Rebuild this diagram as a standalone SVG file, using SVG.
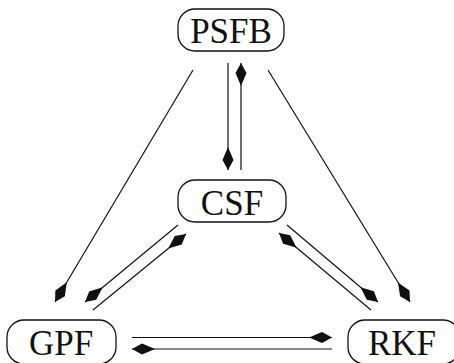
<svg xmlns="http://www.w3.org/2000/svg" width="454" height="363" viewBox="0 0 454 363">
<style>
.box{fill:#fff;stroke:#111;stroke-width:1.3}
.lbl{font-family:"Liberation Serif","Times New Roman",serif;font-size:35px;fill:#111;text-anchor:middle}
.c line{stroke:#111;stroke-width:1.2}
</style>
<defs>
<marker id="a" markerUnits="userSpaceOnUse" markerWidth="24" markerHeight="12" viewBox="0 0 24 12" refX="23" refY="6" orient="auto">
<path d="M23,6 L13,0.5 L0,6 L13,11.5 Z" fill="#111"/>
</marker>
<marker id="b" markerUnits="userSpaceOnUse" markerWidth="24" markerHeight="12" viewBox="0 0 24 12" refX="1" refY="6" orient="auto">
<path d="M1,6 L11,0.5 L24,6 L11,11.5 Z" fill="#111"/>
</marker>
</defs>
<g id="PSFB"><rect class="box" x="178" y="9" width="106" height="42" rx="17"/><text class="lbl" x="231" y="43">PSFB</text></g>
<g id="CSF"><rect class="box" x="178" y="180" width="108" height="42" rx="17"/><text class="lbl" x="232" y="215">CSF</text></g>
<g id="GPF"><rect class="box" x="7" y="320" width="109" height="44" rx="17"/><text class="lbl" x="61" y="355">GPF</text></g>
<g id="RKF"><rect class="box" x="348" y="320" width="112" height="44" rx="17"/><text class="lbl" x="402" y="355">RKF</text></g>
<g class="c">
<line x1="228" y1="63" x2="228" y2="170" marker-end="url(#a)"/>
<line x1="241" y1="63" x2="241" y2="170" marker-start="url(#b)"/>
<line x1="193" y1="70" x2="55" y2="302" marker-end="url(#a)"/>
<line x1="268" y1="70" x2="410" y2="302" marker-end="url(#a)"/>
<line x1="178" y1="225" x2="85" y2="302" marker-end="url(#a)"/>
<line x1="186" y1="234" x2="93" y2="310" marker-start="url(#b)"/>
<line x1="287" y1="225" x2="378" y2="302" marker-end="url(#a)"/>
<line x1="279" y1="233" x2="371" y2="310" marker-start="url(#b)"/>
<line x1="132" y1="337.5" x2="332" y2="337.5" marker-end="url(#a)"/>
<line x1="132" y1="349" x2="332" y2="349" marker-start="url(#b)"/>
</g>
</svg>
